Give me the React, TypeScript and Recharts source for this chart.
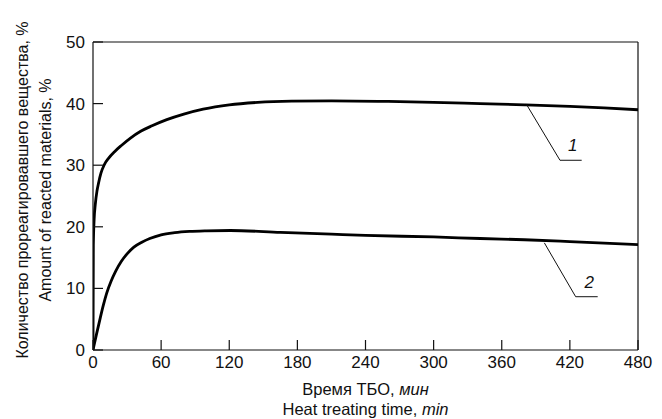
import { LineChart, Line, XAxis, YAxis, ReferenceLine, ReferenceDot } from 'recharts'

// curve 1
const time1 = [0, 0.3, 1, 2, 3.5, 5, 7, 10, 14, 19, 25, 33, 42, 52, 65, 80, 97, 120, 145, 175, 210, 260, 300, 341, 380, 420, 450, 480]
const reacted1 = [0, 17, 21.2, 23.6, 25.8, 27.2, 28.7, 30.1, 31.2, 32.2, 33.2, 34.4, 35.5, 36.4, 37.4, 38.3, 39.1, 39.8, 40.2, 40.4, 40.45, 40.35, 40.2, 40, 39.8, 39.55, 39.3, 39]

// curve 2
const time2 = [0, 3, 6, 9, 12, 16, 20, 25, 30, 36, 43, 50, 60, 72, 85, 100, 121, 165, 210, 240, 300, 341, 380, 420, 480]
const reacted2 = [0, 2.5, 4.9, 7.2, 9.2, 11.2, 12.8, 14.4, 15.6, 16.7, 17.5, 18.1, 18.7, 19.05, 19.25, 19.35, 19.4, 19.1, 18.8, 18.6, 18.35, 18.1, 17.9, 17.6, 17.1]

const xTicks = [0, 60, 120, 180, 240, 300, 360, 420, 480]
const yTicks = [0, 10, 20, 30, 40, 50]

// leader lines: start on curve, elbow, end; label position
const curveLabels = ['1', '2']
const leaderStart = [{ x: 382, y: 39.8 }, { x: 397.5, y: 17.4 }]
const leaderElbow = [{ x: 411.3, y: 30.8 }, { x: 425.1, y: 8.65 }]
const leaderEnd = [{ x: 430.4, y: 30.8 }, { x: 444.5, y: 8.65 }]
const labelPos = [{ x: 422.5, y: 33.3 }, { x: 437, y: 11 }]

const FONT = '"Liberation Sans", Arial, sans-serif'

const series1 = time1.map((t, i) => ({ t, v: reacted1[i] }))
const series2 = time2.map((t, i) => ({ t, v: reacted2[i] }))

function XTitle({ viewBox }: any) {
  const cx = viewBox.x + viewBox.width / 2
  return (
    <text x={cx} textAnchor="middle" fontFamily={FONT} fontSize={16.5} fill="#111">
      <tspan x={cx} y={viewBox.y + 45}>
        Время ТБО, <tspan fontStyle="italic">мин</tspan>
      </tspan>
      <tspan x={cx} y={viewBox.y + 65}>
        Heat treating time, <tspan fontStyle="italic">min</tspan>
      </tspan>
    </text>
  )
}

function YTitle({ viewBox }: any) {
  const cy = 190
  const x1 = viewBox.x - 5
  const x2 = viewBox.x + 18
  return (
    <g fontFamily={FONT} fontSize={16} fill="#111">
      <text x={x1} y={cy} textAnchor="middle" transform={`rotate(-90 ${x1} ${cy})`}>
        Количество прореагировавшего вещества, %
      </text>
      <text x={x2} y={cy} textAnchor="middle" transform={`rotate(-90 ${x2} ${cy})`}>
        Amount of reacted materials, %
      </text>
    </g>
  )
}

export default function App() {
  return (
    <div style={{ position: 'absolute', left: 0, top: 0, background: '#fff' }}>
      <LineChart width={662} height={419} margin={{ top: 42, right: 24, bottom: 39, left: 33 }}>
        <XAxis
          dataKey="t"
          type="number"
          domain={[0, 480]}
          ticks={xTicks}
          allowDataOverflow
          height={30}
          tickSize={-10}
          tickMargin={16}
          stroke="#111"
          strokeWidth={1.2}
          tick={{ fill: '#111', fontSize: 17, fontFamily: FONT }}
          label={<XTitle />}
        />
        <YAxis
          type="number"
          domain={[0, 50]}
          ticks={yTicks}
          width={60}
          tickSize={-10}
          tickMargin={18}
          stroke="#111"
          strokeWidth={1.2}
          tick={{ fill: '#111', fontSize: 17, fontFamily: FONT }}
          label={<YTitle />}
        />
        <ReferenceLine y={50} stroke="#111" strokeWidth={1.2} />
        <ReferenceLine x={480} stroke="#111" strokeWidth={1.2} />
        <Line data={series1} dataKey="v" type="monotone" stroke="#000" strokeWidth={2.8} dot={false} isAnimationActive={false} />
        <Line data={series2} dataKey="v" type="monotone" stroke="#000" strokeWidth={2.8} dot={false} isAnimationActive={false} />
        {curveLabels.map((lbl, i) => (
          <ReferenceLine key={`a${lbl}`} segment={[leaderStart[i], leaderElbow[i]]} stroke="#111" strokeWidth={1} />
        ))}
        {curveLabels.map((lbl, i) => (
          <ReferenceLine key={`b${lbl}`} segment={[leaderElbow[i], leaderEnd[i]]} stroke="#111" strokeWidth={1} />
        ))}
        {curveLabels.map((lbl, i) => (
          <ReferenceDot
            key={`c${lbl}`}
            x={labelPos[i].x}
            y={labelPos[i].y}
            r={0}
            stroke="none"
            fill="none"
            label={{ value: lbl, position: 'center', fontStyle: 'italic', fontSize: 17, fontFamily: FONT, fill: '#111' }}
          />
        ))}
      </LineChart>
    </div>
  )
}
